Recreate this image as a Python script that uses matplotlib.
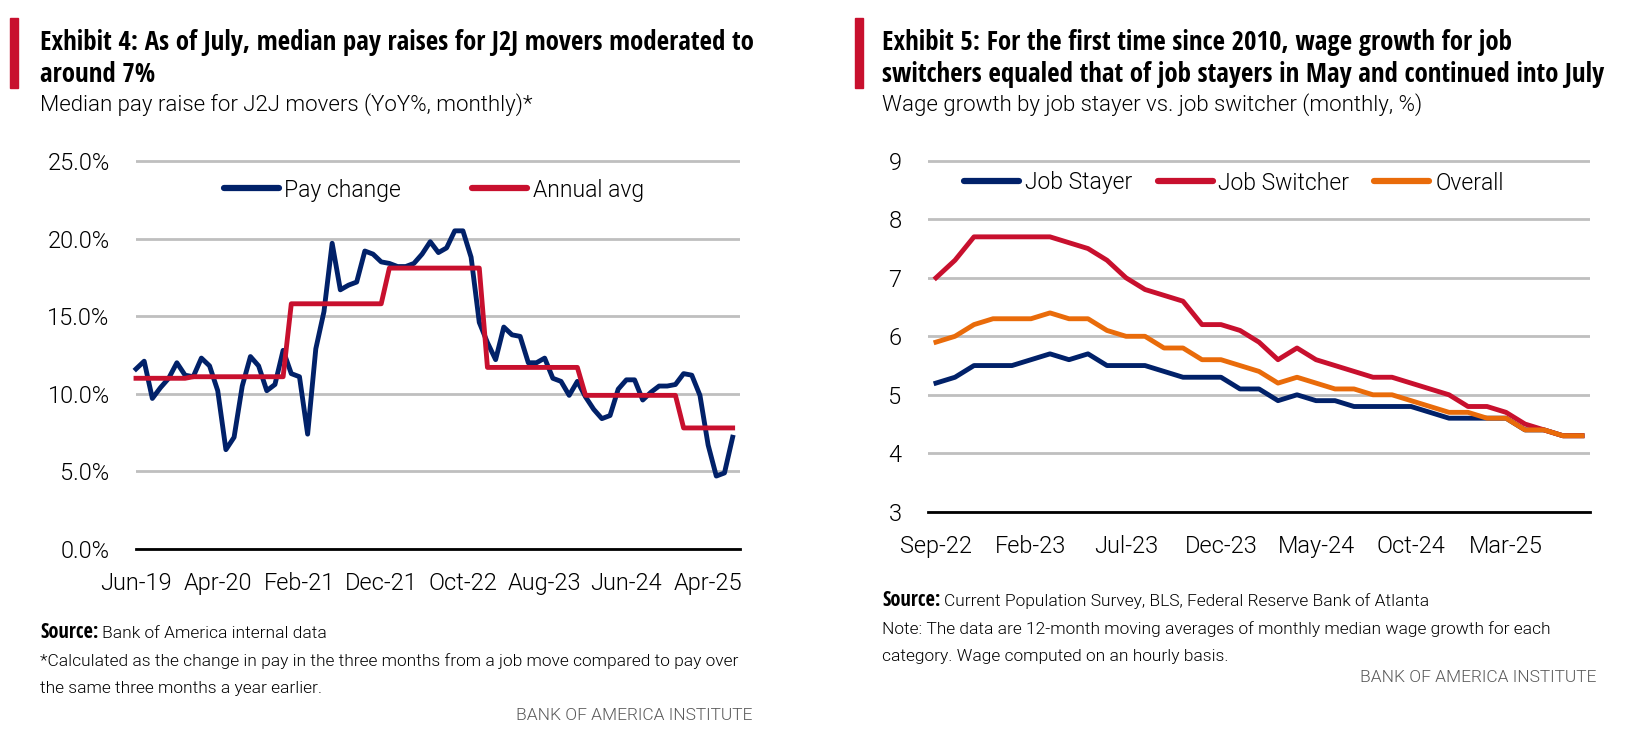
import matplotlib
matplotlib.use("Agg")
import matplotlib.pyplot as plt
from matplotlib import font_manager
from matplotlib.patches import Rectangle
from matplotlib.lines import Line2D

W, H = 1634, 734

# ---------------- data ----------------
# Exhibit 4: monthly, Jun-19 .. Jul-25
left_ticks = ["Jun-19", "Apr-20", "Feb-21", "Dec-21", "Oct-22", "Aug-23", "Jun-24", "Apr-25"]
pay_change = [11.6, 12.1, 9.7, 10.4, 11.0, 12.0, 11.2,
              11.1, 12.3, 11.8, 10.2, 6.4, 7.2, 10.5, 12.4, 11.8, 10.2, 10.6, 12.8,
              11.3, 11.1, 7.4, 12.9, 15.3, 19.7, 16.7, 17.0, 17.2, 19.2, 19.0, 18.5,
              18.4, 18.2, 18.2, 18.4, 19.0, 19.8, 19.1, 19.4, 20.5, 20.5, 18.8, 14.6,
              13.3, 12.2, 14.3, 13.8, 13.7, 12.0, 12.0, 12.3, 11.0, 10.8, 9.9, 10.8,
              9.8, 9.0, 8.4, 8.6, 10.3, 10.9, 10.9, 9.6, 10.1, 10.5, 10.5, 10.6,
              11.3, 11.2, 9.9, 6.7, 4.7, 4.9, 7.2]
annual_avg = [11.0, 11.0, 11.0, 11.0, 11.0, 11.0, 11.0,
              11.1, 11.1, 11.1, 11.1, 11.1, 11.1, 11.1, 11.1, 11.1, 11.1, 11.1, 11.1,
              15.8, 15.8, 15.8, 15.8, 15.8, 15.8, 15.8, 15.8, 15.8, 15.8, 15.8, 15.8,
              18.1, 18.1, 18.1, 18.1, 18.1, 18.1, 18.1, 18.1, 18.1, 18.1, 18.1, 18.1,
              11.7, 11.7, 11.7, 11.7, 11.7, 11.7, 11.7, 11.7, 11.7, 11.7, 11.7, 11.7,
              9.9, 9.9, 9.9, 9.9, 9.9, 9.9, 9.9, 9.9, 9.9, 9.9, 9.9, 9.9,
              7.8, 7.8, 7.8, 7.8, 7.8, 7.8, 7.8]

# Exhibit 5: monthly, Sep-22 .. Jul-25
right_ticks = ["Sep-22", "Feb-23", "Jul-23", "Dec-23", "May-24", "Oct-24", "Mar-25"]
job_stayer = [5.2, 5.3, 5.5, 5.5, 5.5, 5.6, 5.7, 5.6, 5.7, 5.5, 5.5, 5.5, 5.4, 5.3, 5.3,
              5.3, 5.1, 5.1, 4.9, 5.0, 4.9, 4.9, 4.8, 4.8, 4.8, 4.8, 4.7, 4.6, 4.6, 4.6,
              4.6, 4.4, 4.4, 4.3, 4.3]
job_switcher = [7.0, 7.3, 7.7, 7.7, 7.7, 7.7, 7.7, 7.6, 7.5, 7.3, 7.0, 6.8, 6.7, 6.6, 6.2,
                6.2, 6.1, 5.9, 5.6, 5.8, 5.6, 5.5, 5.4, 5.3, 5.3, 5.2, 5.1, 5.0, 4.8, 4.8,
                4.7, 4.5, 4.4, 4.3, 4.3]
overall = [5.9, 6.0, 6.2, 6.3, 6.3, 6.3, 6.4, 6.3, 6.3, 6.1, 6.0, 6.0, 5.8, 5.8, 5.6,
           5.6, 5.5, 5.4, 5.2, 5.3, 5.2, 5.1, 5.1, 5.0, 5.0, 4.9, 4.8, 4.7, 4.7, 4.6,
           4.6, 4.4, 4.4, 4.3, 4.3]

NAVY = "#012169"
RED = "#C8102E"
ORANGE = "#E96B0A"
GRID = "#BFBFBF"

# ---------------- fonts ----------------
def wnum(w):
    return w if isinstance(w, (int, float)) else font_manager.weight_dict.get(w, 400)


# bold condensed face for the headings, light Roboto for everything else
narrow_bold = sorted([f for f in font_manager.fontManager.ttflist
                      if f.style == "normal" and wnum(f.weight) >= 600
                      and ("Condensed" in f.name or "Narrow" in f.name)],
                     key=lambda f: ("Open Sans" not in f.name, abs(wnum(f.weight) - 700)))
if narrow_bold:
    BOLD = dict(family=[narrow_bold[0].name, "DejaVu Sans"],
                fontweight=wnum(narrow_bold[0].weight), fontstretch=narrow_bold[0].stretch)
    KB = 1.0
else:
    BOLD = dict(family=["Roboto", "DejaVu Sans"], fontweight="bold", fontstretch="normal")
    KB = 0.84
REG = dict(family=["Roboto", "DejaVu Sans"], fontweight=300, fontstretch="normal")

plt.rcParams["font.family"] = REG["family"]
plt.rcParams["font.weight"] = 300

TITLE = 19.4 * KB
SOURCE_B = 14.8 * KB
SUB = 16
TICK = 17
LEG = 16.5
NOTE = 12.5

fig = plt.figure(figsize=(W / 100, H / 100), dpi=100)
renderer = fig.canvas.get_renderer()


def fx(x):
    return x / W


def fy(y):
    return 1 - y / H


def place(x0, x1, ytop, ybot):
    return fig.add_axes([fx(x0), fy(ybot), (x1 - x0) / W, (ybot - ytop) / H])


def style(ax):
    for s in ["top", "right", "left"]:
        ax.spines[s].set_visible(False)
    ax.spines["bottom"].set_color("black")
    ax.spines["bottom"].set_linewidth(2)
    ax.spines["bottom"].set_zorder(5)
    ax.yaxis.grid(True, color=GRID, linewidth=2)
    ax.set_axisbelow(True)
    ax.tick_params(axis="both", length=0, labelsize=TICK)
    ax.tick_params(axis="y", pad=19)
    ax.tick_params(axis="x", pad=16.5)


def header(x, bar_x, lines, sub):
    fig.patches.append(Rectangle((fx(bar_x), fy(88)), 8 / W, 70 / H,
                                 transform=fig.transFigure, color=RED))
    for i, line in enumerate(lines):
        fig.text(fx(x), fy(42 + 33 * i), line, fontsize=TITLE, va="center", **BOLD)
    fig.text(fx(x), fy(105), sub, fontsize=SUB, va="center", **REG)


def notes(x, y, source, extra):
    t = fig.text(fx(x), fy(y), "Source:", fontsize=SOURCE_B, va="center", **BOLD)
    bb = t.get_window_extent(renderer)
    fig.text(fx(bb.x1 + 4), fy(y), source, fontsize=NOTE, va="center", **REG)
    for i, line in enumerate(extra):
        fig.text(fx(x), fy(y + 28 * (i + 1)), line, fontsize=NOTE, va="center", **REG)


def legend_font():
    return font_manager.FontProperties(family=REG["family"], weight=300, size=LEG)


# ---------------- Exhibit 4 ----------------
header(40, 10, ["Exhibit 4: As of July, median pay raises for J2J movers moderated to",
                "around 7%"], "Median pay raise for J2J movers (YoY%, monthly)*")

ax1 = place(136, 740, 549 - 25.5 * 15.52, 549)
style(ax1)
months1 = list(range(len(pay_change)))
ax1.plot(months1, pay_change, color=NAVY, lw=3.5, clip_on=False, zorder=3)
ax1.plot(months1, annual_avg, color=RED, lw=3.5, clip_on=False, zorder=4)
ax1.set_xlim(0, 73.9)
ax1.set_ylim(0, 25.5)
ax1.set_yticks([0, 5, 10, 15, 20, 25])
ax1.set_yticklabels([f"{v:.1f}%" for v in [0, 5, 10, 15, 20, 25]])
ax1.set_xticks(list(range(0, 80, 10)))
ax1.set_xticklabels(left_ticks)
ax1.legend([Line2D([], [], color=NAVY, lw=4.5, solid_capstyle="round"),
            Line2D([], [], color=RED, lw=4.5, solid_capstyle="round")],
           ["Pay change", "Annual avg"], loc="center", ncol=2, frameon=False,
           bbox_to_anchor=(fx(434), fy(190)), bbox_transform=fig.transFigure,
           prop=legend_font(), handlelength=2.4, handletextpad=0.25, columnspacing=3.1)

notes(40, 633, "Bank of America internal data",
      ["*Calculated as the change in pay in the three months from a job move compared to pay over",
       "the same three months a year earlier."])
fig.text(fx(752), fy(716), "BANK OF AMERICA INSTITUTE", fontsize=12.5, color="#595959",
         ha="right", va="center", **REG)

# ---------------- Exhibit 5 ----------------
header(882, 855, ["Exhibit 5: For the first time since 2010, wage growth for job",
                  "switchers equaled that of job stayers in May and continued into July"],
       "Wage growth by job stayer vs. job switcher (monthly, %)")

ax2 = place(928, 1590, 511.8 - 6.15 * 58.5, 511.8)
style(ax2)
months2 = list(range(len(overall)))
ax2.plot(months2, job_stayer, color=NAVY, lw=3.5, label="Job Stayer")
ax2.plot(months2, job_switcher, color=RED, lw=3.5, label="Job Switcher")
ax2.plot(months2, overall, color=ORANGE, lw=3.5, label="Overall")
ax2.set_xlim(-0.42, 34.42)
ax2.set_ylim(3, 9.15)
ax2.set_yticks([3, 4, 5, 6, 7, 8, 9])
ax2.set_xticks(list(range(0, 35, 5)))
ax2.set_xticklabels(right_ticks)
ax2.legend([Line2D([], [], color=c, lw=4.5, solid_capstyle="round") for c in (NAVY, RED, ORANGE)],
           ["Job Stayer", "Job Switcher", "Overall"], loc="center", ncol=3, frameon=False,
           bbox_to_anchor=(fx(1234), fy(183)), bbox_transform=fig.transFigure,
           prop=legend_font(), handlelength=2.4, handletextpad=0.25, columnspacing=1.1)

notes(882, 601, "Current Population Survey, BLS, Federal Reserve Bank of Atlanta",
      ["Note: The data are 12-month moving averages of monthly median wage growth for each",
       "category. Wage computed on an hourly basis."])
fig.text(fx(1596), fy(678), "BANK OF AMERICA INSTITUTE", fontsize=12.5, color="#595959",
         ha="right", va="center", **REG)

fig.savefig("out.png", dpi=100)
